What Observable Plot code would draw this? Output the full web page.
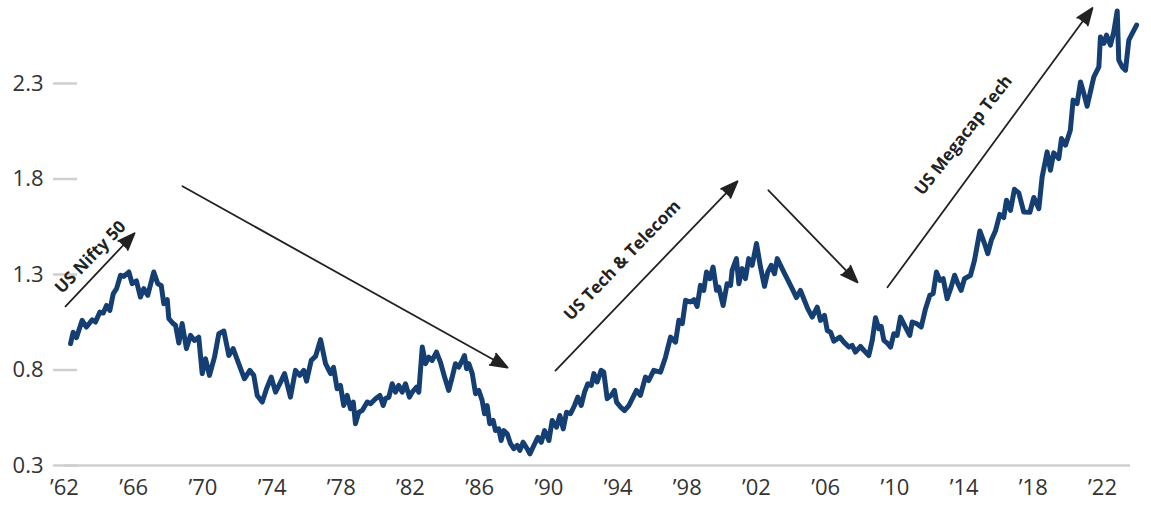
<!DOCTYPE html>
<html>
<head>
<meta charset="utf-8">
<script src="https://cdn.jsdelivr.net/npm/d3@7"></script>
<script src="https://cdn.jsdelivr.net/npm/@observablehq/plot@0.6"></script>
<style>
  html, body { margin: 0; padding: 0; background: #fff; }
  #chart svg { display: block; }
</style>
</head>
<body>
<div id="chart"></div>
<script>
// Relative valuation series (decimal year, value)
const years = [
  1962.35,1962.50,1962.69,1963.02,1963.27,1963.60,1963.79,1964.04,1964.24,1964.43,
  1964.62,1964.82,1965.01,1965.24,1965.43,1965.72,1965.91,1966.16,1966.39,1966.58,
  1966.81,1967.16,1967.39,1967.59,1967.74,1967.94,1968.03,1968.28,1968.42,1968.61,
  1968.80,1969.05,1969.28,1969.51,1969.76,1969.96,1970.15,1970.38,1970.67,1970.92,
  1971.21,1971.50,1971.75,1972.07,1972.40,1972.71,1972.94,1973.14,1973.43,1973.68,
  1973.95,1974.20,1974.49,1974.72,1975.06,1975.35,1975.60,1975.83,1975.99,1976.26,
  1976.51,1976.80,1977.09,1977.38,1977.55,1977.76,1977.95,1978.14,1978.34,1978.53,
  1978.69,1978.82,1979.01,1979.21,1979.50,1979.69,1979.98,1980.23,1980.42,1980.55,
  1980.75,1980.94,1981.13,1981.32,1981.52,1981.71,1981.94,1982.10,1982.35,1982.48,
  1982.68,1982.87,1983.06,1983.25,1983.50,1983.73,1983.97,1984.21,1984.41,1984.60,
  1984.79,1984.99,1985.12,1985.24,1985.37,1985.57,1985.76,1985.95,1986.14,1986.28,
  1986.43,1986.58,1986.78,1986.91,1987.10,1987.24,1987.39,1987.59,1987.78,1987.97,
  1988.17,1988.32,1988.51,1988.74,1988.90,1989.13,1989.36,1989.56,1989.75,1990.00,
  1990.19,1990.44,1990.63,1990.83,1991.02,1991.25,1991.48,1991.67,1991.87,1992.06,
  1992.25,1992.45,1992.60,1992.79,1993.02,1993.17,1993.37,1993.60,1993.79,1993.91,
  1994.14,1994.37,1994.62,1995.06,1995.29,1995.58,1995.77,1996.06,1996.45,1996.74,
  1997.03,1997.32,1997.51,1997.71,1997.90,1998.18,1998.38,1998.57,1998.76,1998.95,
  1999.11,1999.30,1999.49,1999.69,1999.82,2000.07,2000.30,2000.50,2000.59,2000.84,
  2000.98,2001.17,2001.36,2001.55,2001.75,2002.00,2002.23,2002.46,2002.65,2002.85,
  2003.04,2003.20,2003.48,2003.77,2004.06,2004.31,2004.54,2004.73,2004.96,2005.22,
  2005.51,2005.70,2005.93,2006.09,2006.28,2006.47,2006.82,2007.05,2007.34,2007.53,
  2007.72,2008.01,2008.20,2008.49,2008.69,2008.88,2009.07,2009.21,2009.36,2009.59,
  2009.75,2009.94,2010.13,2010.32,2010.61,2010.86,2011.00,2011.25,2011.52,2011.77,
  2012.02,2012.21,2012.40,2012.60,2012.79,2013.02,2013.25,2013.45,2013.64,2013.83,
  2014.02,2014.37,2014.60,2014.91,2015.18,2015.37,2015.57,2015.82,2016.06,2016.29,
  2016.45,2016.68,2016.91,2017.16,2017.45,2017.80,2018.03,2018.32,2018.51,2018.80,
  2018.99,2019.18,2019.47,2019.63,2019.86,2020.14,2020.30,2020.53,2020.73,2020.92,
  2021.11,2021.30,2021.50,2021.79,2021.88,2022.08,2022.23,2022.46,2022.65,2022.85,
  2022.94,2023.14,2023.33,2023.52,2023.72,2023.97
];
const values = [
  0.938,0.998,0.969,1.060,1.025,1.063,1.051,1.103,1.098,1.138,
  1.112,1.200,1.226,1.296,1.290,1.313,1.252,1.266,1.182,1.226,
  1.191,1.313,1.252,1.243,1.147,1.168,1.069,1.043,1.034,0.941,
  1.043,0.912,0.981,0.955,0.972,0.781,0.859,0.772,0.867,0.990,
  1.004,0.876,0.912,0.833,0.754,0.798,0.772,0.667,0.632,0.702,
  0.763,0.684,0.737,0.781,0.658,0.798,0.772,0.798,0.742,0.850,
  0.871,0.959,0.833,0.781,0.814,0.702,0.719,0.614,0.667,0.597,
  0.632,0.519,0.579,0.588,0.632,0.623,0.650,0.667,0.614,0.650,
  0.658,0.728,0.684,0.719,0.684,0.728,0.658,0.684,0.710,0.684,
  0.920,0.833,0.867,0.850,0.894,0.841,0.763,0.693,0.763,0.833,
  0.815,0.850,0.876,0.807,0.833,0.781,0.676,0.693,0.641,0.571,
  0.614,0.519,0.536,0.483,0.492,0.431,0.483,0.466,0.414,0.388,
  0.405,0.379,0.422,0.388,0.361,0.405,0.448,0.422,0.483,0.431,
  0.536,0.501,0.562,0.492,0.579,0.571,0.614,0.658,0.614,0.684,
  0.728,0.719,0.781,0.737,0.798,0.789,0.650,0.667,0.693,0.632,
  0.606,0.588,0.614,0.693,0.667,0.763,0.745,0.798,0.789,0.867,
  0.972,0.946,1.060,1.043,1.165,1.156,1.168,1.133,1.243,1.217,
  1.313,1.278,1.339,1.217,1.234,1.138,1.252,1.243,1.322,1.383,
  1.252,1.331,1.278,1.383,1.348,1.462,1.339,1.238,1.313,1.348,
  1.304,1.383,1.331,1.278,1.226,1.179,1.217,1.173,1.121,1.077,
  1.129,1.060,1.086,1.007,0.998,0.951,0.972,0.946,0.920,0.929,
  0.894,0.924,0.903,0.876,0.955,1.074,1.016,1.028,0.955,0.938,
  0.920,0.990,0.981,1.077,1.025,0.981,1.051,1.043,1.025,1.121,
  1.191,1.200,1.313,1.269,1.278,1.173,1.234,1.296,1.252,1.217,
  1.278,1.296,1.374,1.528,1.462,1.409,1.479,1.531,1.615,1.598,
  1.689,1.636,1.746,1.727,1.627,1.626,1.703,1.645,1.811,1.942,
  1.846,1.937,1.907,2.012,1.977,2.055,2.213,2.195,2.308,2.248,
  2.181,2.256,2.335,2.387,2.544,2.510,2.553,2.501,2.570,2.680,
  2.422,2.387,2.370,2.527,2.562,2.606
];

// Axis ticks
const xTicks = [1962,1966,1970,1974,1978,1982,1986,1990,1994,1998,2002,2006,2010,2014,2018,2022];
const yTicks = [0.3, 0.8, 1.3, 1.8, 2.3];

// Annotation arrows (data units)
const arrowX1 = [1962.06, 1968.82, 1990.38, 2002.69, 2009.57];
const arrowY1 = [1.133, 1.762, 0.797, 1.741, 1.233];
const arrowX2 = [1966.05, 1987.61, 2000.90, 2007.84, 2021.42];
const arrowY2 = [1.516, 0.813, 1.788, 1.259, 2.695];

// Annotation labels
const labelText = ["US Nifty 50", "US Tech & Telecom", "US Megacap Tech"];
const labelX = [1963.50, 1994.25, 2013.97];
const labelY = [1.390, 1.374, 2.029];
const labelAngle = [-46, -46, -52];

const series = years.map((t, i) => ({t, v: values[i]}));
const arrows = arrowX1.map((x1, i) => ({x1, y1: arrowY1[i], x2: arrowX2[i], y2: arrowY2[i]}));
const labels = labelText.map((text, i) => ({text, x: labelX[i], y: labelY[i], r: labelAngle[i]}));

const font = "'Open Sans', 'Noto Sans', sans-serif";

const chart = Plot.plot({
  width: 1151,
  height: 508,
  marginLeft: 64,
  marginRight: 21,
  marginTop: 83,
  marginBottom: 43,
  style: {fontFamily: font, background: "#fff", overflow: "visible"},
  x: {domain: [1962, 2023.618], axis: null},
  y: {domain: [0.3, 2.3], axis: null},
  marks: [
    Plot.ruleY([0.3], {stroke: "#cfcfcf", strokeWidth: 2.5}),
    Plot.axisY({
      ticks: yTicks,
      tickFormat: d3.format(".1f"),
      tickSize: 24,
      tickPadding: 10,
      dx: 13,
      stroke: "#cfcfcf",
      strokeWidth: 2.5,
      fill: "#333",
      fontSize: 22,
      label: null
    }),
    Plot.axisX({
      ticks: xTicks,
      tickFormat: d => "\u2019" + String(d).slice(2),
      tickSize: 0,
      tickPadding: 14,
      fill: "#333",
      fontSize: 22,
      label: null
    }),
    Plot.line(series, {x: "t", y: "v", stroke: "#153f73", strokeWidth: 5, strokeLinejoin: "round", strokeLinecap: "round"}),
    Plot.arrow(arrows, {x1: "x1", y1: "y1", x2: "x2", y2: "y2", stroke: "#222", fill: "#222", strokeWidth: 1.8, headLength: 15, headAngle: 42}),
    Plot.text(labels, {x: "x", y: "y", text: "text", rotate: "r", fontSize: 17, fontWeight: "bold", fill: "#222", textAnchor: "middle"})
  ]
});

document.getElementById("chart").appendChild(chart);
</script>
</body>
</html>
